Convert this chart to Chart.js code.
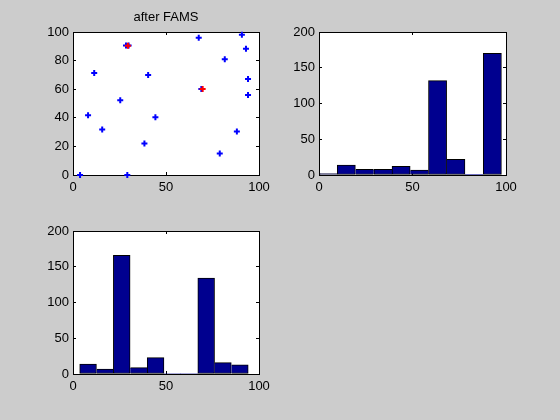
<!DOCTYPE html>
<html>
<head>
<meta charset="utf-8">
<script src="https://cdn.jsdelivr.net/npm/chart.js@4.4.1/dist/chart.umd.min.js"></script>
<style>
  html, body { margin: 0; padding: 0; background: #cccccc; }
  body { width: 560px; height: 420px; position: relative; overflow: hidden; }
  canvas { position: absolute; }
</style>
</head>
<body>
<canvas id="ax-scatter" width="256" height="198" style="left:23px; top:2px"></canvas>
<canvas id="ax-hist-top" width="257" height="183" style="left:269px; top:17px"></canvas>
<canvas id="ax-hist-bottom" width="256" height="183" style="left:23px; top:216px"></canvas>
<script>
// ---- Daten ----

// Punkte nach FAMS (blau)
const POINTS_X = [3.8, 8.1, 11.4, 15.7, 25.4, 28.5, 29.9, 29.2, 38.4, 40.4, 44.3,
                  67.6, 69.0, 78.9, 81.6, 88.1, 90.8, 93.0, 94.1, 94.1];
const POINTS_Y = [0.0, 41.8, 71.4, 31.9, 52.3, 90.6, 90.6, 0.0, 22.1, 70.0, 40.4,
                  96.0, 60.1, 15.0, 81.0, 30.5, 98.1, 88.3, 67.1, 55.9];

// Moden (rot)
const MODES_X = [29.5, 69.7];
const MODES_Y = [90.4, 60.1];

// Histogramm oben rechts
const HIST_TOP_CENTERS = [4.9, 14.6, 24.4, 34.2, 43.9, 53.7, 63.4, 73.2, 82.9, 92.7];
const HIST_TOP_COUNTS  = [2, 14, 8, 8, 12, 7, 132, 22, 1, 170];

// Histogramm unten links
const HIST_BOTTOM_CENTERS = [8.1, 17.2, 26.2, 35.3, 44.4, 53.4, 62.5, 71.6, 80.6, 89.7];
const HIST_BOTTOM_COUNTS  = [14, 7, 166, 9, 23, 0, 0, 134, 16, 13];

// Achsen
const X_RANGE = [0, 100];
const X_STEP = 50;
const SCATTER_Y_RANGE = [0, 100];
const SCATTER_Y_STEP = 20;
const HIST_Y_RANGE = [0, 200];
const HIST_Y_STEP = 50;

const TITLE = 'after FAMS';

// ---- Stil ----
Chart.defaults.font.family = "'Liberation Sans', Arial, sans-serif";
Chart.defaults.font.size = 13;
Chart.defaults.color = '#000';

const BAR_FILL = '#00008f';
const TICK_IN = -3;      // Striche nach innen (wie MATLAB)
const LEFT_W = 50;       // Platz für y-Beschriftung
const BOTTOM_H = 25;     // Platz für x-Beschriftung
const RIGHT_PAD = 20;
const TOP_PAD = 15;

// weisser Achsenhintergrund
const whiteAxes = {
  id: 'whiteAxes',
  beforeDraw(chart) {
    const { ctx, chartArea: a } = chart;
    ctx.save();
    ctx.fillStyle = '#fff';
    ctx.fillRect(a.left, a.top, a.width, a.height);
    ctx.restore();
  },
};

function fixWidth(w) { return scale => { scale.width = w; }; }
function fixHeight(h) { return scale => { scale.height = h; }; }

// vier Achsen: unten/links beschriftet, oben/rechts nur Striche (Box)
function boxScales(xRange, xStep, yRange, yStep) {
  const grid = {
    drawOnChartArea: false,
    drawTicks: true,
    tickLength: TICK_IN,
    color: '#000',
    offset: false,
  };
  const border = { display: true, color: '#000', width: 1 };
  const xBase = { type: 'linear', min: xRange[0], max: xRange[1], offset: false, grid, border };
  const yBase = { type: 'linear', min: yRange[0], max: yRange[1], grid, border };
  return {
    x: { ...xBase, position: 'bottom', ticks: { stepSize: xStep, padding: 8, maxRotation: 0 },
         afterFit: fixHeight(BOTTOM_H) },
    x2: { ...xBase, position: 'top', ticks: { stepSize: xStep, display: false },
          afterFit: fixHeight(0) },
    y: { ...yBase, position: 'left', ticks: { stepSize: yStep, padding: 7 },
         afterFit: fixWidth(LEFT_W) },
    y2: { ...yBase, position: 'right', ticks: { stepSize: yStep, display: false },
          afterFit: fixWidth(0) },
  };
}

// Balkenkanten: jede gemeinsame Kante nur einmal zeichnen
function barEdges(counts) {
  return ctx => {
    const i = ctx.dataIndex;
    const v = counts[i];
    if (!v) return 0;
    const prev = i > 0 ? counts[i - 1] : 0;
    const next = i < counts.length - 1 ? counts[i + 1] : 0;
    return { top: 1, bottom: 1, left: v >= prev ? 1 : 0, right: v > next ? 1 : 0 };
  };
}

function toXY(xs, ys) {
  return xs.map((x, i) => ({ x, y: ys[i] }));
}

// ---- Streudiagramm ----
new Chart(document.getElementById('ax-scatter'), {
  type: 'scatter',
  data: {
    datasets: [
      {
        data: toXY(MODES_X, MODES_Y),
        pointStyle: 'cross',
        pointRadius: 3,
        pointBorderWidth: 2,
        borderColor: '#ff0000',
        backgroundColor: '#ff0000',
        clip: false,
      },
      {
        data: toXY(POINTS_X, POINTS_Y),
        pointStyle: 'cross',
        pointRadius: 3,
        pointBorderWidth: 2,
        borderColor: '#0000ff',
        backgroundColor: '#0000ff',
        clip: false,
      },
    ],
  },
  options: {
    responsive: false,
    animation: false,
    layout: { padding: { left: 0, right: RIGHT_PAD, top: 0, bottom: 0 } },
    plugins: {
      legend: { display: false },
      tooltip: { enabled: false },
      title: {
        display: true,
        text: TITLE,
        fullSize: false,
        color: '#000',
        font: { size: 13, weight: 'normal' },
        padding: { top: 8, bottom: 6.4 },
      },
    },
    scales: boxScales(X_RANGE, X_STEP, SCATTER_Y_RANGE, SCATTER_Y_STEP),
  },
  plugins: [whiteAxes],
});

// ---- Histogramme ----
function buildHist(id, centers, counts) {
  new Chart(document.getElementById(id), {
    type: 'bar',
    data: {
      datasets: [{
        data: toXY(centers, counts),
        backgroundColor: BAR_FILL,
        borderColor: '#000',
        borderWidth: barEdges(counts),
        borderSkipped: false,
        barPercentage: 1,
        categoryPercentage: 1,
      }],
    },
    options: {
      responsive: false,
      animation: false,
      layout: { padding: { left: 0, right: RIGHT_PAD, top: TOP_PAD, bottom: 0 } },
      plugins: {
        legend: { display: false },
        tooltip: { enabled: false },
      },
      scales: boxScales(X_RANGE, X_STEP, HIST_Y_RANGE, HIST_Y_STEP),
    },
    plugins: [whiteAxes],
  });
}

buildHist('ax-hist-top', HIST_TOP_CENTERS, HIST_TOP_COUNTS);
buildHist('ax-hist-bottom', HIST_BOTTOM_CENTERS, HIST_BOTTOM_COUNTS);
</script>
</body>
</html>
